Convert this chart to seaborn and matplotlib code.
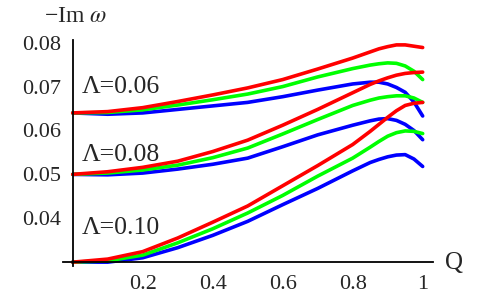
import numpy as np
import pandas as pd
import seaborn as sns
import matplotlib.pyplot as plt

# === Dati ===
Q = [0.0, 0.1, 0.2, 0.3, 0.4, 0.5, 0.6, 0.7, 0.8, 0.85, 0.875, 0.9, 0.925, 0.95, 0.975, 1.0]

# Lambda = 0.06
red_006 = [0.0640, 0.0643, 0.0652, 0.0666, 0.0681, 0.0697, 0.0716, 0.0740, 0.0765, 0.0779, 0.0786, 0.0791, 0.0795, 0.0795, 0.0792, 0.0789]
green_006 = [0.0640, 0.0641, 0.0647, 0.0658, 0.0670, 0.0683, 0.0700, 0.0722, 0.0741, 0.0749, 0.0752, 0.0754, 0.0753, 0.0747, 0.0735, 0.0716]
blue_006 = [0.0640, 0.0637, 0.0640, 0.0648, 0.0656, 0.0664, 0.0677, 0.0692, 0.0706, 0.0710, 0.0710, 0.0706, 0.0698, 0.0687, 0.0665, 0.0633]

# Lambda = 0.08
red_008 = [0.0500, 0.0506, 0.0516, 0.0530, 0.0552, 0.0578, 0.0612, 0.0648, 0.0686, 0.0705, 0.0713, 0.0720, 0.0726, 0.0730, 0.0732, 0.0733]
green_008 = [0.0500, 0.0503, 0.0510, 0.0521, 0.0538, 0.0560, 0.0592, 0.0625, 0.0657, 0.0669, 0.0674, 0.0677, 0.0679, 0.0679, 0.0674, 0.0664]
blue_008 = [0.0500, 0.0499, 0.0503, 0.0512, 0.0523, 0.0537, 0.0563, 0.0590, 0.0612, 0.0622, 0.0626, 0.0627, 0.0623, 0.0614, 0.0600, 0.0579]

# Lambda = 0.10
red_010 = [0.0300, 0.0307, 0.0324, 0.0355, 0.0391, 0.0428, 0.0474, 0.0520, 0.0568, 0.0598, 0.0614, 0.0630, 0.0645, 0.0657, 0.0662, 0.0664]
green_010 = [0.0300, 0.0303, 0.0316, 0.0344, 0.0376, 0.0412, 0.0452, 0.0496, 0.0537, 0.0562, 0.0575, 0.0587, 0.0595, 0.0599, 0.0598, 0.0593]
blue_010 = [0.0300, 0.0300, 0.0310, 0.0333, 0.0361, 0.0393, 0.0431, 0.0468, 0.0508, 0.0527, 0.0534, 0.0540, 0.0544, 0.0545, 0.0535, 0.0518]

lambdas = ["0.06", "0.08", "0.10"]
label_y = [0.0700, 0.0545, 0.0377]
series = {
    ("0.06", "red"): red_006, ("0.06", "green"): green_006, ("0.06", "blue"): blue_006,
    ("0.08", "red"): red_008, ("0.08", "green"): green_008, ("0.08", "blue"): blue_008,
    ("0.10", "red"): red_010, ("0.10", "green"): green_010, ("0.10", "blue"): blue_010,
}

rows = []
for (lam, col), vals in series.items():
    for q, v in zip(Q, vals):
        rows.append({"Q": q, "ImW": v, "Lambda": lam, "curve": col})
df = pd.DataFrame(rows)

# === Grafico ===
sns.set_style("white")
plt.rcParams["font.family"] = ["Liberation Serif", "STIXGeneral", "DejaVu Serif"]
plt.rcParams["mathtext.fontset"] = "stix"

fig = plt.figure(figsize=(4.84, 2.99), dpi=100)
ax = fig.add_axes([0.130, 0.110, 0.765, 0.756])

palette = {"red": "#ff0000", "green": "#00ff00", "blue": "#0000ff"}
sns.lineplot(data=df, x="Q", y="ImW", hue="curve", units="Lambda", estimator=None,
             palette=palette, hue_order=["blue", "green", "red"], linewidth=2.6,
             sort=True, legend=False, ax=ax)

ax.set_xlim(-0.028, 1.03)
ax.set_ylim(0.0291, 0.0806)
ax.spines["left"].set_position(("data", 0))
ax.spines["bottom"].set_position(("data", 0.03))
ax.spines["top"].set_visible(False)
ax.spines["right"].set_visible(False)
for s in ["left", "bottom"]:
    ax.spines[s].set_linewidth(1.3)
    ax.spines[s].set_color("black")

ax.set_xticks([0.2, 0.4, 0.6, 0.8, 1.0])
ax.set_xticklabels(["0.2", "0.4", "0.6", "0.8", "1"])
ax.set_xticks(np.arange(0.05, 1.01, 0.05), minor=True)
ax.set_yticks([0.04, 0.05, 0.06, 0.07, 0.08])
ax.set_yticklabels(["0.04", "0.05", "0.06", "0.07", "0.08"])
ax.set_yticks(np.arange(0.032, 0.0805, 0.002), minor=True)
ax.tick_params(axis="both", which="major", direction="in", length=3, width=0.6,
               color="#888888", labelsize=16)
ax.tick_params(axis="both", which="minor", direction="in", length=1.5, width=0.5,
               color="#aaaaaa")
ax.tick_params(axis="x", pad=9)
ax.tick_params(axis="y", pad=8)
ax.set_xlabel("")
ax.set_ylabel("")

for lam, y in zip(lambdas, label_y):
    ax.text(0.026, y, "\u039b=" + lam, fontsize=18.5, va="center", ha="left")

fig.text(0.155, 0.945, "\u2212Im $\\omega$", fontsize=17, ha="center", va="center")
fig.text(0.938, 0.12, "Q", fontsize=18, ha="center", va="center")

plt.savefig("out.png", dpi=100)
